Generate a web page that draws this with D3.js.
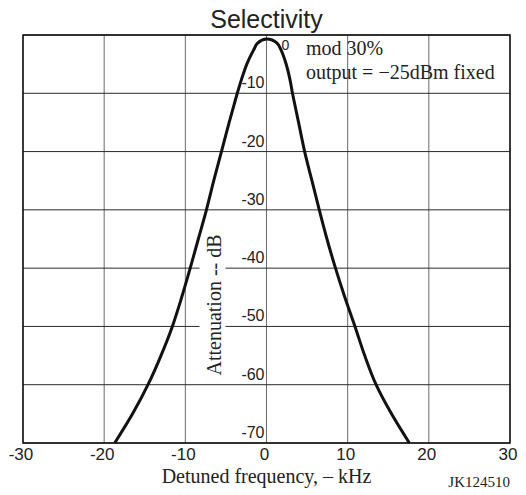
<!DOCTYPE html>
<html>
<head>
<meta charset="utf-8">
<script src="https://cdn.jsdelivr.net/npm/d3@7"></script>
<style>
  body { margin: 0; background: #fff; }
</style>
</head>
<body>
<div id="chart"></div>
<script>
// data (kHz, dB)
const freq  = [-18.7, -16.5, -14.6, -13.0, -11.6, -10.45, -9.4, -8.4, -7.4, -6.5, -5.55, -4.6, -4.0, -3.6, -3.1, -2.4, -1.6, -1.1,
               0,
               1.3, 1.8, 2.4, 2.9, 3.2, 3.5, 3.95, 4.7, 5.6, 6.5, 7.45, 8.5, 9.65, 10.9, 12.1, 13.5, 15.4, 17.6]
const atten = [-70, -65, -60, -55, -50, -45, -40, -35, -30, -25, -20, -15, -12, -10, -7.7, -4.9, -2.6, -1.4,
               -0.7,
               -1.4, -2.6, -4.9, -7.7, -10, -12, -15, -20, -25, -30, -35, -40, -45, -50, -55, -60, -65, -70]
const xTicks = [-30, -20, -10, 0, 10, 20, 30]
const yTicks = [0, -10, -20, -30, -40, -50, -60, -70]

const width  = 526;
const height = 495;
const margin = {top: 35, bottom: 52, left: 23, right: 16};

const svg = d3.select("#chart")
    .append("svg")
    .attr("width",  width)
    .attr("height", height)

const x = d3.scaleLinear().domain([-30, 30]).range([margin.left, width - margin.right])
const y = d3.scaleLinear().domain([-70, 0]).range([height - margin.bottom, margin.top])

// grid
const grid = svg.append("g").attr("id", "grid")
grid.selectAll("line.v")
    .data(xTicks)
    .join("line")
        .attr("x1", d => x(d)).attr("x2", d => x(d))
        .attr("y1", y(0)).attr("y2", y(-70))
        .attr("stroke", "#6a6a6a")
        .attr("stroke-width", 1)
grid.selectAll("line.h")
    .data(yTicks)
    .join("line")
        .attr("x1", x(-30)).attr("x2", x(30))
        .attr("y1", d => y(d)).attr("y2", d => y(d))
        .attr("stroke", "#2a2a2a")
        .attr("stroke-width", 1)

// y label with white box behind it
const yLabelX = x(0) - 46
const yLabelY = 305
svg.append("rect")
    .attr("x", yLabelX - 21).attr("y", yLabelY - 75)
    .attr("width", 26).attr("height", 150)
    .attr("fill", "#fff")
svg.append("text")
    .text("Attenuation -- dB")
    .attr("transform", `translate(${yLabelX}, ${yLabelY}) rotate(-90)`)
    .attr("text-anchor", "middle")
    .attr("font-family", "Liberation Serif")
    .attr("font-size", 20)
    .attr("fill", "#222")

// frame
svg.append("rect")
    .attr("x", x(-30)).attr("y", y(0))
    .attr("width", x(30) - x(-30)).attr("height", y(-70) - y(0))
    .attr("fill", "none")
    .attr("stroke", "#111")
    .attr("stroke-width", 1.5)

// curve
const line = d3.line()
    .x(d => x(d[0]))
    .y(d => y(d[1]))
    .curve(d3.curveCatmullRom.alpha(0.5))

svg.append("path")
    .datum(d3.zip(freq, atten))
    .attr("d", line)
    .attr("fill", "none")
    .attr("stroke", "#111")
    .attr("stroke-width", 3)

// tick labels
svg.selectAll("text.xt")
    .data(xTicks)
    .join("text")
        .text(d => d)
        .attr("x", d => x(d) - 2)
        .attr("y", height - margin.bottom + 17)
        .attr("text-anchor", "middle")
        .attr("font-family", "Liberation Sans")
        .attr("font-size", 17)
        .attr("fill", "#222")

svg.selectAll("text.yt")
    .data(yTicks)
    .join("text")
        .text(d => d)
        .attr("x", d => d == 0 ? x(0) + 15 : x(0) - 2)
        .attr("y", d => d == 0 ? y(0) + 15 : y(d) - 5)
        .attr("text-anchor", d => d == 0 ? "start" : "end")
        .attr("font-family", "Liberation Sans")
        .attr("font-size", d => d == 0 ? 14 : 16)
        .attr("fill", "#222")

// titles and notes
svg.append("text")
    .text("Selectivity")
    .attr("x", x(0)).attr("y", 28)
    .attr("text-anchor", "middle")
    .attr("font-family", "Liberation Sans")
    .attr("font-size", 25)
    .attr("fill", "#222")

svg.append("text")
    .text("mod 30%")
    .attr("x", 306).attr("y", 55)
    .attr("font-family", "Liberation Serif")
    .attr("font-size", 20)
    .attr("fill", "#222")

svg.append("text")
    .text("output = \u221225dBm fixed")
    .attr("x", 306).attr("y", 79)
    .attr("font-family", "Liberation Serif")
    .attr("font-size", 20)
    .attr("fill", "#222")

svg.append("text")
    .text("Detuned frequency, \u2013 kHz")
    .attr("x", x(0)).attr("y", 483)
    .attr("text-anchor", "middle")
    .attr("font-family", "Liberation Serif")
    .attr("font-size", 20)
    .attr("fill", "#222")

svg.append("text")
    .text("JK124510")
    .attr("x", 510).attr("y", 487)
    .attr("text-anchor", "end")
    .attr("font-family", "Liberation Serif")
    .attr("font-size", 15)
    .attr("fill", "#222")
</script>
</body>
</html>
